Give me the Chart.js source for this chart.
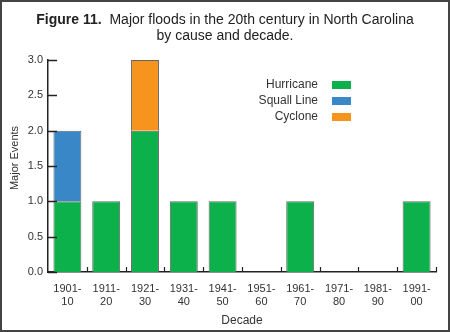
<!DOCTYPE html>
<html>
<head>
<meta charset="utf-8">
<script src="https://cdn.jsdelivr.net/npm/chart.js@4"></script>
<style>
html,body{margin:0;padding:0;background:#fff;}
#wrap{width:450px;height:332px;position:relative;}
canvas{display:block;}
</style>
</head>
<body>
<div id="wrap"><canvas id="c" width="450" height="332"></canvas></div>
<script>
const decades = [["1901-","10"],["1911-","20"],["1921-","30"],["1931-","40"],["1941-","50"],["1951-","60"],["1961-","70"],["1971-","80"],["1981-","90"],["1991-","00"]];
const hurricane = [1,1,2,1,1,0,1,0,0,1];
const squallLine = [1,0,0,0,0,0,0,0,0,0];
const cyclone = [0,0,1,0,0,0,0,0,0,0];
const seriesNames = ["Hurricane","Squall Line","Cyclone"];
const seriesColors = ["#0db14b","#3a87c8","#f7941d"];
const yTicks = [0,0.5,1,1.5,2,2.5,3];

const FONT = "'Liberation Sans', Arial, sans-serif";

const decorPlugin = {
  id: 'decor',
  afterDraw(chart) {
    const ctx = chart.ctx;
    const ca = chart.chartArea;
    const x = chart.scales.x, y = chart.scales.y;
    ctx.save();
    // inward ticks on y axis
    ctx.strokeStyle = '#222';
    ctx.lineWidth = 1.5;
    yTicks.forEach(v => {
      const py = Math.round(y.getPixelForValue(v)) + 0.5;
      ctx.beginPath(); ctx.moveTo(ca.left, py); ctx.lineTo(ca.left + 9, py); ctx.stroke();
    });
    // inward ticks on x axis at category boundaries
    ctx.lineWidth = 1.2;
    for (let i = 1; i <= decades.length; i++) {
      const px = Math.round(x.getPixelForValue(i - 0.5)) + 0.5;
      ctx.beginPath(); ctx.moveTo(px, ca.bottom); ctx.lineTo(px, ca.bottom - 5); ctx.stroke();
    }
    // title
    ctx.fillStyle = '#222';
    ctx.textBaseline = 'middle';
    const bold = "bold 14px " + FONT, norm = "14px " + FONT;
    const p1 = "Figure 11.", p2 = "  Major floods in the 20th century in North Carolina";
    ctx.font = bold; const w1 = ctx.measureText(p1).width;
    ctx.font = norm; const w2 = ctx.measureText(p2).width;
    let sx = 225 - (w1 + w2) / 2;
    ctx.textAlign = 'left';
    ctx.font = bold; ctx.fillText(p1, sx, 20);
    ctx.font = norm; ctx.fillText(p2, sx + w1, 20);
    ctx.textAlign = 'center';
    ctx.fillText("by cause and decade.", 225, 36);
    // y axis title
    ctx.save();
    ctx.translate(15, 158);
    ctx.rotate(-Math.PI / 2);
    ctx.font = "11px " + FONT;
    ctx.fillStyle = '#333';
    ctx.textAlign = 'center';
    ctx.fillText("Major Events", 0, 0);
    ctx.restore();
    // legend
    ctx.font = "12px " + FONT;
    ctx.textAlign = 'right';
    seriesNames.forEach((n, i) => {
      const ly = 85 + i * 16;
      ctx.fillStyle = '#333';
      ctx.fillText(n, 318, ly);
      ctx.fillStyle = seriesColors[i];
      ctx.fillRect(332, ly - 4, 19, 8);
    });
    // frame
    ctx.strokeStyle = '#444';
    ctx.lineWidth = 2;
    ctx.strokeRect(1, 1, 448, 330);
    ctx.restore();
  }
};

new Chart(document.getElementById('c'), {
  type: 'bar',
  data: {
    labels: decades,
    datasets: [
      {label: seriesNames[0], data: hurricane, backgroundColor: seriesColors[0]},
      {label: seriesNames[1], data: squallLine, backgroundColor: seriesColors[1]},
      {label: seriesNames[2], data: cyclone, backgroundColor: seriesColors[2]}
    ].map(d => Object.assign(d, {borderColor: '#666', borderWidth: 1, borderSkipped: 'bottom', barPercentage: 0.72, categoryPercentage: 1}))
  },
  options: {
    responsive: false,
    animation: false,
    events: [],
    layout: {padding: {top: 60, right: 14, left: 0, bottom: 0}},
    plugins: {legend: {display: false}, title: {display: false}, tooltip: {enabled: false}},
    scales: {
      x: {
        stacked: true,
        grid: {display: false, drawTicks: false},
        border: {display: true, color: '#222', width: 1.5},
        ticks: {color: '#333', font: {family: FONT, size: 11, lineHeight: 1.15}, padding: 11, maxRotation: 0, autoSkip: false},
        title: {display: true, text: 'Decade', color: '#333', font: {family: FONT, size: 12}, padding: {top: 3}},
        afterFit(s) { s.height = 60; }
      },
      y: {
        stacked: true,
        min: 0, max: 3,
        afterBuildTicks(s) { s.ticks = yTicks.map(v => ({value: v})); },
        grid: {display: false, drawTicks: false},
        border: {display: true, color: '#222', width: 1.5},
        ticks: {color: '#333', font: {family: FONT, size: 11}, padding: 5, callback: v => Number(v).toFixed(1)},
        title: {display: false},
        afterFit(s) { s.width = 48; }
      }
    }
  },
  plugins: [decorPlugin]
});
</script>
</body>
</html>
